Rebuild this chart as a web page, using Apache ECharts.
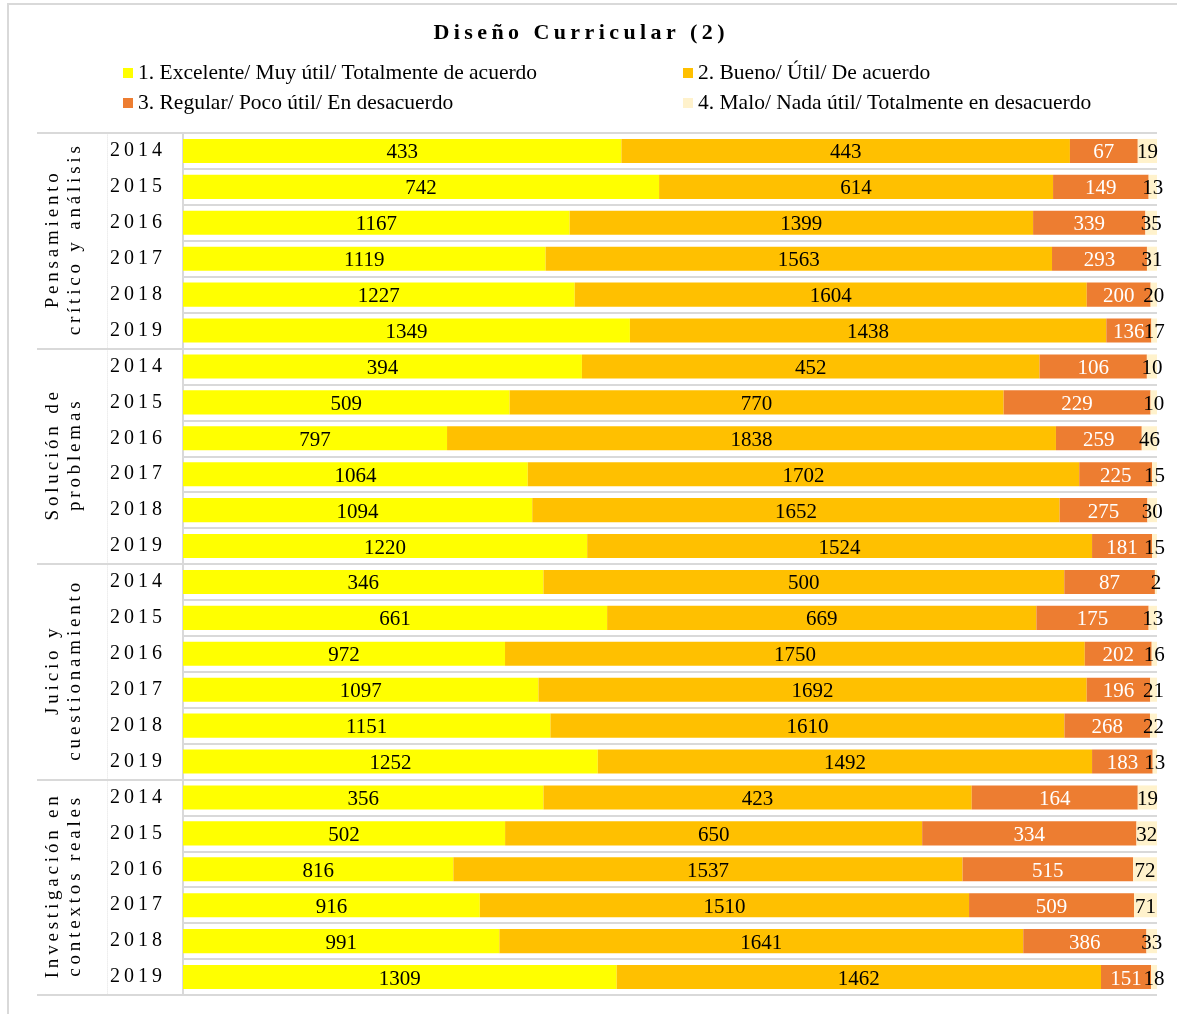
<!DOCTYPE html>
<html>
<head>
<meta charset="utf-8">
<script src="https://cdn.jsdelivr.net/npm/echarts@6/dist/echarts.min.js"></script>
<style>
html, body { margin: 0; padding: 0; background: #fff; }
#wrap { position: relative; width: 1177px; height: 1014px; overflow: hidden; }
#frame { position: absolute; left: 7px; top: 3px; width: 1300px; height: 1100px; border: 2px solid #d9d9d9; box-sizing: border-box; }
#main { position: absolute; left: 0; top: 0; width: 1177px; height: 1014px; }
</style>
</head>
<body>
<div id="wrap">
    <div id="frame"></div>
    <div id="main"></div>
</div>
<script>
// datos
var groups = [
    'Pensamiento\ncrítico y análisis',
    'Solución de\nproblemas',
    'Juicio y\ncuestionamiento',
    'Investigación en\ncontextos reales'
];
var years = ['2014', '2015', '2016', '2017', '2018', '2019'];
var seriesNames = [
    '1. Excelente/ Muy útil/ Totalmente de acuerdo',
    '2. Bueno/ Útil/ De acuerdo',
    '3. Regular/ Poco útil/ En desacuerdo',
    '4. Malo/ Nada útil/ Totalmente en desacuerdo'
];
var excelente = [433, 742, 1167, 1119, 1227, 1349,
                 394, 509, 797, 1064, 1094, 1220,
                 346, 661, 972, 1097, 1151, 1252,
                 356, 502, 816, 916, 991, 1309];
var bueno     = [443, 614, 1399, 1563, 1604, 1438,
                 452, 770, 1838, 1702, 1652, 1524,
                 500, 669, 1750, 1692, 1610, 1492,
                 423, 650, 1537, 1510, 1641, 1462];
var regular   = [67, 149, 339, 293, 200, 136,
                 106, 229, 259, 225, 275, 181,
                 87, 175, 202, 196, 268, 183,
                 164, 334, 515, 509, 386, 151];
var malo      = [19, 13, 35, 31, 20, 17,
                 10, 10, 46, 15, 30, 15,
                 2, 13, 16, 21, 22, 13,
                 19, 32, 72, 71, 33, 18];
var colors = ['#ffff00', '#ffc000', '#ed7d31', '#fff2cc'];
var labelColors = ['#000', '#000', '#fff', '#000'];

var raw = [excelente, bueno, regular, malo];

// espaciado entre letras
function spaced(s) {
    return s.split('\n').map(function (line) {
        return line.split('').join('\u2009');
    }).join('\n');
}

var rows = [];
groups.forEach(function (g, gi) {
    years.forEach(function (y) { rows.push(gi + '|' + y); });
});

var totals = excelente.map(function (v, i) {
    return v + bueno[i] + regular[i] + malo[i];
});

var font = 'Liberation Serif';

var series = raw.map(function (arr, si) {
    return {
        name: seriesNames[si],
        type: 'bar',
        stack: 'total',
        yAxisIndex: 0,
        barCategoryGap: '33%',
        itemStyle: { color: colors[si] },
        label: {
            show: true,
            position: 'inside',
            offset: [0, 2],
            fontFamily: font,
            fontSize: 21,
            color: labelColors[si],
            formatter: function (p) { return raw[si][p.dataIndex]; }
        },
        data: arr.map(function (v, i) { return v / totals[i] * 100; })
    };
});

var myChart = echarts.init(document.getElementById('main'));

var legendText = { fontFamily: font, fontSize: 21.5, color: '#000', lineHeight: 24 };

var option = {
    animation: false,
    textStyle: { fontFamily: font },
    title: {
        text: spaced('Diseño Curricular (2)'),
        left: 574,
        textAlign: 'center',
        top: 17,
        textStyle: { fontFamily: font, fontSize: 22, fontWeight: 'bold', color: '#000' }
    },
    legend: [
        {
            data: [seriesNames[0], seriesNames[2]],
            orient: 'vertical',
            left: 118,
            top: 56,
            itemWidth: 10,
            itemHeight: 10,
            itemGap: 6,
            icon: 'rect',
            selectedMode: false,
            textStyle: legendText
        },
        {
            data: [seriesNames[1], seriesNames[3]],
            orient: 'vertical',
            left: 678,
            top: 56,
            itemWidth: 10,
            itemHeight: 10,
            itemGap: 6,
            icon: 'rect',
            selectedMode: false,
            textStyle: legendText
        }
    ],
    grid: {
        left: 183,
        right: 20,
        top: 133,
        bottom: 19,
        containLabel: false
    },
    xAxis: {
        type: 'value',
        min: 0,
        max: 100,
        show: false
    },
    yAxis: [
        {
            type: 'category',
            data: rows,
            inverse: true,
            axisLine: { show: true, lineStyle: { color: '#d9d9d9', width: 2 } },
            axisTick: { show: false },
            splitLine: { show: true, interval: 0, lineStyle: { color: '#d9d9d9', width: 2 } },
            axisLabel: {
                interval: 0,
                margin: 21,
                padding: [4, 0, 0, 0],
                fontFamily: font,
                fontSize: 20,
                color: '#000',
                formatter: function (v) { return spaced(v.split('|')[1]); }
            }
        },
        {
            type: 'category',
            data: groups,
            inverse: true,
            position: 'left',
            offset: 0,
            axisLine: { show: false },
            axisTick: { show: true, length: 146, interval: 0, lineStyle: { color: '#d9d9d9', width: 2 } },
            splitLine: { show: false },
            axisLabel: {
                interval: 0,
                rotate: 90,
                margin: 97,
                fontFamily: font,
                fontSize: 19,
                lineHeight: 22,
                color: '#000',
                formatter: function (v) { return spaced(v); }
            }
        },
        {
            // línea punteada entre grupo y año
            type: 'category',
            data: groups,
            inverse: true,
            position: 'left',
            offset: 76,
            axisLine: { show: true, lineStyle: { color: '#eeeeee', width: 1, type: 'dotted' } },
            axisTick: { show: false },
            axisLabel: { show: false },
            splitLine: { show: false }
        }
    ],
    series: series
};

myChart.setOption(option);
</script>
</body>
</html>
